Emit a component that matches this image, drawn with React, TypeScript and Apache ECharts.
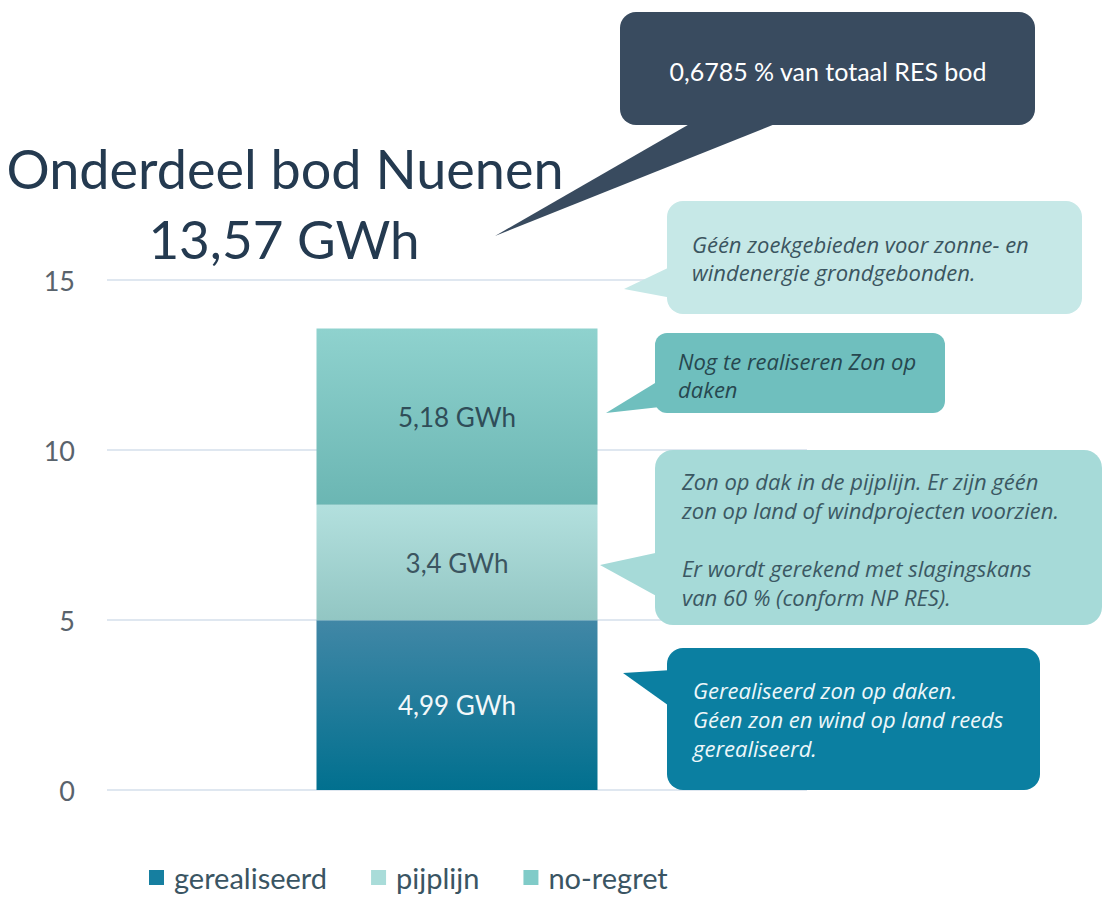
import React, { useEffect, useRef } from "react";
import * as echarts from "echarts";

const categories = ["Nuenen"];
const seriesNames = ["gerealiseerd", "pijplijn", "no-regret"];
const gerealiseerd = [4.99];
const pijplijn = [3.4];
const noRegret = [5.18];
const yMin = 0;
const yMax = 15;
const yInterval = 5;

const titleLines = ["Onderdeel bod Nuenen", "13,57 GWh"];
const shareText = ["0,6785 % van totaal RES bod"];
const noteGrond = ["Géén zoekgebieden voor zonne- en", "windenergie grondgebonden."];
const noteNoRegret = ["Nog te realiseren Zon op", "daken"];
const notePijplijn = [
  "Zon op dak in de pijplijn. Er zijn géén",
  "zon op land of windprojecten voorzien.",
  "",
  "Er wordt gerekend met slagingskans",
  "van 60 % (conform NP RES).",
];
const noteGerealiseerd = [
  "Gerealiseerd zon op daken.",
  "Géen zon en wind op land reeds",
  "gerealiseerd.",
];

const FONT = "Lato, 'Open Sans', sans-serif";
const NOTE_FONT = "'Open Sans', Lato, sans-serif";

function grad(top: string, bottom: string) {
  return new echarts.graphic.LinearGradient(0, 0, 0, 1, [
    { offset: 0, color: top },
    { offset: 1, color: bottom },
  ]);
}

function fmt(v: number) {
  return String(v).replace(".", ",") + " GWh";
}

function callout(
  rect: { x: number; y: number; w: number; h: number; r: number },
  tail: number[][],
  fill: string,
  lines: string[],
  textX: number,
  firstY: number,
  lineH: number,
  color: string,
  fontSize: number,
  italic: boolean,
  font: string,
  align: string = "left"
) {
  const children: any[] = [
    { type: "polygon", z: 100, shape: { points: tail }, style: { fill } },
    {
      type: "rect",
      z: 100,
      shape: { x: rect.x, y: rect.y, width: rect.w, height: rect.h, r: rect.r },
      style: { fill },
    },
  ];
  lines.forEach((t, i) => {
    if (!t) return;
    children.push({
      type: "text",
      z: 101,
      x: textX,
      y: firstY + i * lineH,
      style: {
        text: t,
        fill: color,
        fontSize,
        fontFamily: font,
        fontStyle: italic ? "italic" : "normal",
        textAlign: align,
        textVerticalAlign: "middle",
      },
    });
  });
  return { type: "group", z: 100, children };
}

export default function App() {
  const ref = useRef<HTMLDivElement>(null);
  useEffect(() => {
    if (!ref.current) return;
    const chart = echarts.init(ref.current, null, { renderer: "svg" });
    const labelBase = {
      show: true,
      position: "inside",
      fontSize: 26,
      fontFamily: FONT,
      formatter: (p: any) => fmt(p.value),
    };
    chart.setOption({
      animation: false,
      backgroundColor: "#ffffff",
      grid: { left: 107, right: 297, top: 280, bottom: 107 },
      legend: {
        left: 144,
        top: 858,
        icon: "rect",
        itemWidth: 15,
        itemHeight: 15,
        itemGap: 44,
        textStyle: {
          fontSize: 29,
          color: "#3a5563",
          fontFamily: FONT,
          padding: [0, 0, 0, 5],
        },
        data: [
          { name: seriesNames[0], itemStyle: { color: "#167fa0" } },
          { name: seriesNames[1], itemStyle: { color: "#a9dcd9" } },
          { name: seriesNames[2], itemStyle: { color: "#80cbc8" } },
        ],
      },
      xAxis: {
        type: "category",
        data: categories,
        axisLine: { show: false },
        axisTick: { show: false },
        axisLabel: { show: false },
      },
      yAxis: {
        type: "value",
        min: yMin,
        max: yMax,
        interval: yInterval,
        axisLine: { show: false },
        axisTick: { show: false },
        axisLabel: { fontSize: 27, color: "#59636c", fontFamily: FONT, margin: 32 },
        splitLine: { lineStyle: { color: "#dfe7f0", width: 2 } },
      },
      series: [
        {
          name: seriesNames[0],
          type: "bar",
          stack: "total",
          barWidth: 281,
          data: gerealiseerd,
          itemStyle: { color: grad("#4187a6", "#01708f") },
          label: { ...labelBase, color: "#f2f8fa" },
        },
        {
          name: seriesNames[1],
          type: "bar",
          stack: "total",
          data: pijplijn,
          itemStyle: { color: grad("#b3e0de", "#92c6c3") },
          label: { ...labelBase, color: "#3b5560" },
        },
        {
          name: seriesNames[2],
          type: "bar",
          stack: "total",
          data: noRegret,
          itemStyle: { color: grad("#8fd2ce", "#6bb6b3") },
          label: { ...labelBase, color: "#2f4d58" },
        },
      ],
      graphic: [
        {
          type: "text",
          z: 100,
          x: 285,
          y: 168,
          style: {
            text: titleLines[0],
            fill: "#243a50",
            fontSize: 54,
            fontFamily: FONT,
            textAlign: "center",
            textVerticalAlign: "middle",
          },
        },
        {
          type: "text",
          z: 100,
          x: 284,
          y: 238,
          style: {
            text: titleLines[1],
            fill: "#243a50",
            fontSize: 53,
            fontFamily: FONT,
            textAlign: "center",
            textVerticalAlign: "middle",
          },
        },
        callout(
          { x: 620, y: 12, w: 415, h: 113, r: 16 },
          [[700, 118], [790, 118], [495, 236]],
          "#394b5f",
          shareText,
          828,
          71,
          28,
          "#ffffff",
          25,
          false,
          FONT,
          "center"
        ),
        callout(
          { x: 667, y: 201, w: 415, h: 113, r: 16 },
          [[672, 266], [672, 298], [624, 289]],
          "#c6e8e7",
          noteGrond,
          692,
          244,
          28,
          "#3b5560",
          22,
          true,
          NOTE_FONT
        ),
        callout(
          { x: 655, y: 333, w: 290, h: 80, r: 12 },
          [[660, 380], [660, 407], [606, 413]],
          "#6fbfbe",
          noteNoRegret,
          678,
          361,
          28,
          "#27474f",
          22,
          true,
          NOTE_FONT
        ),
        callout(
          { x: 655, y: 450, w: 447, h: 175, r: 18 },
          [[660, 552], [660, 598], [600, 565]],
          "#a6dad8",
          notePijplijn,
          682,
          481,
          29,
          "#3b5863",
          22,
          true,
          NOTE_FONT
        ),
        callout(
          { x: 667, y: 648, w: 373, h: 142, r: 16 },
          [[672, 670], [672, 708], [623, 673]],
          "#0b7fa1",
          noteGerealiseerd,
          693,
          690,
          29,
          "#eef7fa",
          22,
          true,
          NOTE_FONT
        ),
      ],
    });
    return () => chart.dispose();
  }, []);
  return (
    <div
      ref={ref}
      style={{ position: "absolute", left: 0, top: 0, width: 1104, height: 897 }}
    />
  );
}
